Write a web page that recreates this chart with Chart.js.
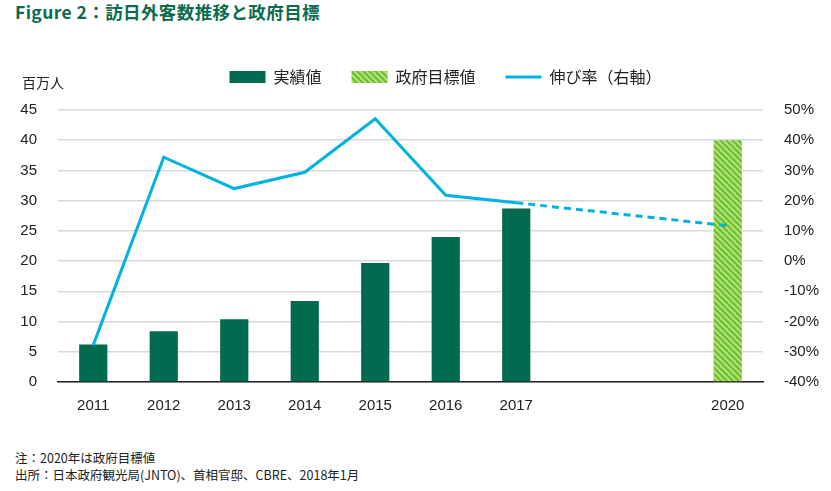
<!DOCTYPE html>
<html>
<head>
<meta charset="utf-8">
<script src="https://cdn.jsdelivr.net/npm/chart.js@4.4.0/dist/chart.umd.min.js"></script>
<style>
  body { margin: 0; background: #fff; font-family: 'Noto Sans CJK JP', sans-serif; }
  #wrap { position: relative; width: 831px; height: 491px; }
  #title { position: absolute; left: 15px; top: -1px; font-size: 17.5px; font-weight: bold; color: #0b6b4f; letter-spacing: 0.4px; }
  #box { position: absolute; left: 0; top: 26px; width: 831px; height: 396px; }
  .note { position: absolute; left: 15px; font-size: 12.5px; color: #222; }
</style>
</head>
<body>
<div id="wrap">
  <div id="title">Figure 2：訪日外客数推移と政府目標</div>
  <div id="box"><canvas id="myChart"></canvas></div>
  <div class="note" style="top:448px">注：2020年は政府目標値</div>
  <div class="note" style="top:465px">出所：日本政府観光局(JNTO)、首相官邸、CBRE、2018年1月</div>
</div>
<script>
const years = ['2011', '2012', '2013', '2014', '2015', '2016', '2017', '2018', '2019', '2020'];
const tickLabels = ['2011', '2012', '2013', '2014', '2015', '2016', '2017', '', '', '2020'];
const actual = [6.2, 8.4, 10.4, 13.4, 19.7, 24.0, 28.7, null, null, null];
const target = [null, null, null, null, null, null, null, null, null, 40];
const growth = [-27.8, 34.4, 24.0, 29.4, 47.1, 21.8, 19.3, null, null, null];
const growthTarget = [null, null, null, null, null, null, 19.3, null, null, 11.7];

// hatched fill for the target bar
const pc = document.createElement('canvas');
pc.width = 6; pc.height = 6;
const p = pc.getContext('2d');
p.fillStyle = '#b3e07f';
p.fillRect(0, 0, 6, 6);
p.strokeStyle = '#6cbf2a';
p.lineWidth = 2.2;
p.beginPath();
p.moveTo(-1, -1); p.lineTo(7, 7);
p.moveTo(-4, 2); p.lineTo(4, 10);
p.moveTo(2, -4); p.lineTo(10, 4);
p.stroke();
const ctx = document.getElementById('myChart').getContext('2d');
const hatch = ctx.createPattern(pc, 'repeat');

const unitLabel = {
    id: 'unitLabel',
    beforeInit(chart) {
        const fit = chart.legend.fit;
        chart.legend.fit = function () {
            fit.bind(chart.legend)();
            this.height += 15;
        };
    },
    afterLayout(chart) {
        // legend sits a little right of centre in the original
        chart.legend.left += 60;
    },
    afterDraw(chart) {
        const c = chart.ctx;
        c.save();
        c.font = '14px "Noto Sans CJK JP"';
        c.fillStyle = '#222';
        c.textBaseline = 'middle';
        c.fillText('百万人', 22, 57);
        c.restore();
    }
};

const myChart = new Chart(ctx, {
    type: 'bar',
    data: {
        labels: years,
        datasets: [{
            label: '実績値',
            data: actual,
            backgroundColor: '#006b4e',
            barPercentage: 0.4,
            categoryPercentage: 1,
            grouped: false,
            yAxisID: 'y',
            order: 2
        }, {
            label: '政府目標値',
            data: target,
            backgroundColor: hatch,
            barPercentage: 0.4,
            categoryPercentage: 1,
            grouped: false,
            yAxisID: 'y',
            order: 2
        }, {
            type: 'line',
            label: '伸び率（右軸）',
            data: growth,
            borderColor: '#00b2e2',
            backgroundColor: '#00b2e2',
            borderWidth: 3,
            pointRadius: 0,
            tension: 0,
            yAxisID: 'y1',
            order: 0
        }, {
            type: 'line',
            label: 'target growth',
            data: growthTarget,
            borderColor: '#00b2e2',
            borderWidth: 3,
            borderDash: [7, 5],
            pointRadius: 0,
            spanGaps: true,
            yAxisID: 'y1',
            order: 0
        }]
    },
    options: {
        responsive: true,
        maintainAspectRatio: false,
        animation: false,
        layout: { padding: { left: 0, right: 0, top: 13, bottom: 0 } },
        plugins: {
            legend: {
                position: 'top',
                labels: {
                    filter: item => item.datasetIndex < 3,
                    sort: (a, b) => a.datasetIndex - b.datasetIndex,
                    usePointStyle: true,
                    pointStyleWidth: 36,
                    boxHeight: 12,
                    padding: 30,
                    color: '#222',
                    font: { size: 16, family: 'Noto Sans CJK JP' },
                    generateLabels(chart) {
                        const items = Chart.defaults.plugins.legend.labels.generateLabels(chart);
                        items.forEach(it => {
                            if (it.datasetIndex === 2) {
                                it.pointStyle = 'line';
                                it.lineWidth = 3;
                                it.strokeStyle = '#00b2e2';
                            } else {
                                it.pointStyle = 'rect';
                                it.lineWidth = 0;
                            }
                        });
                        return items;
                    }
                }
            },
            tooltip: { enabled: false }
        },
        scales: {
            x: {
                grid: { display: false },
                border: { color: '#222', width: 1.5 },
                ticks: {
                    color: '#222',
                    font: { size: 15 },
                    padding: 7,
                    maxRotation: 0,
                    autoSkip: false,
                    callback: (v, i) => tickLabels[i]
                }
            },
            y: {
                position: 'left',
                min: 0, max: 45,
                afterFit: s => { s.width = 58; },
                ticks: { stepSize: 5, color: '#222', font: { size: 15 }, padding: 21 },
                grid: { color: '#d9d9d9', lineWidth: 1.5, drawTicks: false },
                border: { display: false }
            },
            y1: {
                position: 'right',
                min: -40, max: 50,
                afterFit: s => { s.width = 68; },
                ticks: { stepSize: 10, color: '#222', font: { size: 15 }, padding: 13,
                         callback: v => v + '%' },
                grid: { display: false },
                border: { display: false }
            }
        }
    },
    plugins: [unitLabel]
});
</script>
</body>
</html>
